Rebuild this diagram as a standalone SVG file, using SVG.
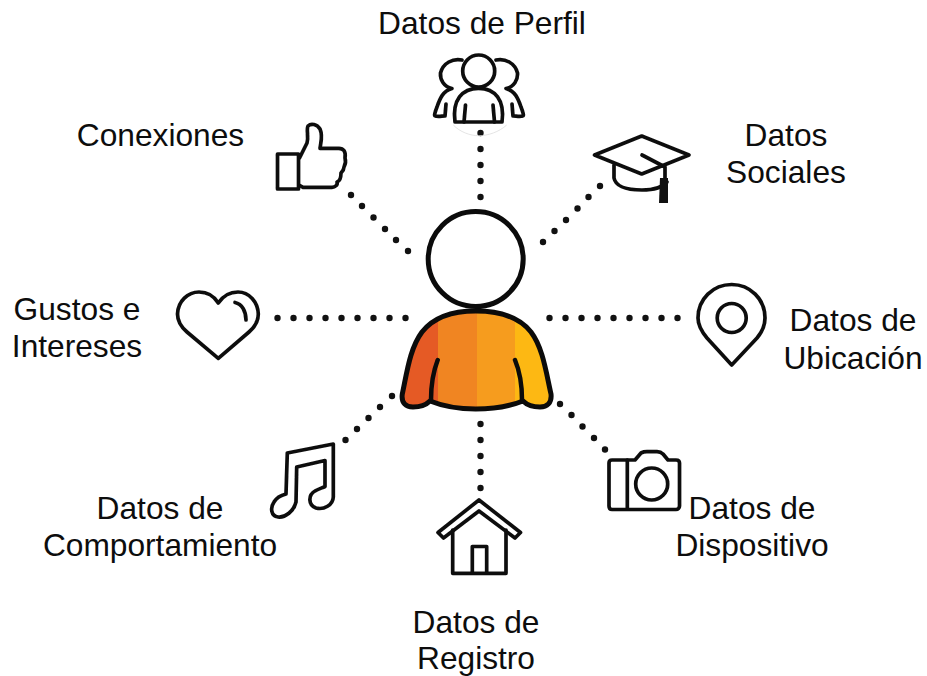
<svg xmlns="http://www.w3.org/2000/svg" width="927" height="676" viewBox="0 0 927 676">
<style>
text{font-family:"Liberation Sans",Arial,sans-serif;font-size:31.7px;fill:#0d0d0d;text-anchor:middle}
.i{fill:none;stroke:#111;stroke-width:3.7;stroke-linejoin:round;stroke-linecap:round;filter:url(#soft)}
.d{fill:#111}
</style>
<defs>
<filter id="soft" x="-10%" y="-10%" width="120%" height="120%"><feGaussianBlur stdDeviation="0.45"/></filter>
<path id="body" d="M475.7 311C452 311 433 318 422 332C410 348 407 372 402.3 394C401 403 406 407 413 407C420 407 426 405 430 401C445 407 460 409 475.7 409C492 409 508 407 523 401C527 405 533 407 540 407C547 407 552 403 551 394C546 372 543 348 531 332C520 318 500 311 475.7 311Z"/>
<clipPath id="bc"><use href="#body"/></clipPath>
<circle id="o" r="3.2"/>
</defs>
<rect width="927" height="676" fill="#fff"/>
<g id="connectors" class="d">
<use href="#o" x="480.500" y="133"/><use href="#o" x="480.500" y="149"/><use href="#o" x="480.500" y="165"/><use href="#o" x="480.500" y="181"/><use href="#o" x="480.500" y="197"/>
<use href="#o" x="600" y="186"/><use href="#o" x="588.500" y="197"/><use href="#o" x="577.500" y="208.500"/><use href="#o" x="566" y="220"/><use href="#o" x="554.500" y="231"/><use href="#o" x="543" y="242"/>
<use href="#o" x="351" y="195"/><use href="#o" x="362" y="206"/><use href="#o" x="373.500" y="217.500"/><use href="#o" x="385" y="229"/><use href="#o" x="396" y="240"/><use href="#o" x="408" y="251"/>
<use href="#o" x="277.500" y="318"/><use href="#o" x="293.500" y="318"/><use href="#o" x="309.500" y="318"/><use href="#o" x="325.500" y="318"/><use href="#o" x="341.500" y="318"/><use href="#o" x="357.500" y="318"/><use href="#o" x="373.500" y="318"/><use href="#o" x="389.500" y="318"/><use href="#o" x="405.500" y="318"/>
<use href="#o" x="549.500" y="318"/><use href="#o" x="565.500" y="318"/><use href="#o" x="581.500" y="318"/><use href="#o" x="597.500" y="318"/><use href="#o" x="613.500" y="318"/><use href="#o" x="629.500" y="318"/><use href="#o" x="645.500" y="318"/><use href="#o" x="661.500" y="318"/><use href="#o" x="677.500" y="318"/>
<use href="#o" x="560" y="404"/><use href="#o" x="571.500" y="415"/><use href="#o" x="582.500" y="426.500"/><use href="#o" x="594" y="438"/><use href="#o" x="605" y="449.500"/>
<use href="#o" x="345.500" y="440"/><use href="#o" x="357" y="429"/><use href="#o" x="368.500" y="418"/><use href="#o" x="380" y="407"/><use href="#o" x="392" y="396"/>
<use href="#o" x="480.500" y="424"/><use href="#o" x="480.500" y="440"/><use href="#o" x="480.500" y="456"/><use href="#o" x="480.500" y="472"/><use href="#o" x="480.500" y="488"/>
</g>
<g id="person">
<circle cx="475.700" cy="259" r="47.500" fill="#fff" stroke="#0b0b0b" stroke-width="5"/>
<g clip-path="url(#bc)">
<rect x="395" y="305" width="43" height="110" fill="#E55A25"/>
<rect x="438" y="305" width="39" height="110" fill="#F08522"/>
<rect x="477" y="305" width="38" height="110" fill="#F69C1E"/>
<rect x="515" y="305" width="45" height="110" fill="#FDB813"/>
</g>
<use href="#body" fill="none" stroke="#0b0b0b" stroke-width="5" stroke-linejoin="round"/>
<path d="M437.700 360C433 372 431 387 431 400M515 360C520 372 522 387 522 400" fill="none" stroke="#0b0b0b" stroke-width="4.500" stroke-linecap="round"/>
</g>
<g id="perfil">
<path d="M453.300 125C460 132 470 135.700 478.700 135.700C488 135.700 499 132 506.700 125" fill="none" stroke="#ddd" stroke-width="0.800"/>
<g class="i">
<circle cx="478.700" cy="71" r="16"/>
<path d="M455 122C452 100 462 88.300 478.700 88.300C495 88.300 505 100 502 122Z"/>
<path d="M465.500 105L464 122M493 105L494.500 122"/>
<path d="M462 60C453 58 443 63 440.500 73C440 80 444 87 452 88.500C443 91 440 98 437 107C435 112 434 116 435 116C438 117 442 116 445 116L446 104"/>
<path d="M496 60C505 58 515 63 517.500 73C518 80 514 87 506 88.500C515 91 518 98 521 107C523 112 524 116 523 116C520 117 516 116 513 116L512 104"/>
</g>
<text x="482" y="34">Datos de Perfil</text>
</g>
<g id="social">
<g class="i">
<path d="M594.500 155L641.700 136L689 155L641.700 174Z"/>
<path d="M614 165V178C616 188 630 190 642 190C652 190 662 188 667 182"/>
<path d="M642 155L665 167V180"/>
</g>
<path d="M660 178L668 178L668 203H659Z" fill="#111"/>
<text x="786" y="146">Datos</text>
<text x="786" y="183">Sociales</text>
</g>
<g id="conexiones">
<g class="i">
<rect x="277.500" y="154" width="21" height="35"/>
<path d="M299.500 158L307 143C309 136 306 130 308 126C311 123 317 124 320 129C323 136 321 141 320 148.300H338C344 148 346 152 345 158C346 161 345 165 344 167C344 170 342 172 341 173C341 178 340 181 337 182C338 185 335 187.300 332 187.300H303L299 185"/>
</g>
<text x="160.500" y="146">Conexiones</text>
</g>
<g id="gustos">
<g class="i">
<path d="M218.300 358.300L187 332C180 326 177.500 320 177.500 314C178 301 188 292 199 292C207 292 214 296 218.300 303C223 296 230 292 238 292C249 292 258 302 258.300 314C258.300 320 256 326 249 332Z"/>
<path d="M235 302.500C242 304 246 311 246 320"/>
</g>
<text x="77" y="320">Gustos e</text>
<text x="77" y="357">Intereses</text>
</g>
<g id="ubicacion">
<g class="i">
<path d="M731.700 365L707 338C702 332 698 325 698 318C698 299 713 284.500 731.700 284.500C750 284.500 765 299 765 318C765 325 762 332 757 338Z"/>
<circle cx="731.700" cy="318" r="14.500"/>
</g>
<text x="853" y="331">Datos de</text>
<text x="853" y="369">Ubicación</text>
</g>
<g id="dispositivo">
<g class="i">
<path d="M612 460H635L641 453C643 452 645 451.700 647 451.700H657C659 451.700 661 452 663 454L668 460H676C678 460 679.500 461 679.500 463V506C679.500 508 678 509.500 676 509.500H612C610 509.500 609 508 609 506V463C609 461 610 460 612 460Z"/>
<path d="M627.300 460V509"/>
<circle cx="651.700" cy="484" r="16"/>
</g>
<text x="752" y="519">Datos de</text>
<text x="752" y="556">Dispositivo</text>
</g>
<g id="registro">
<g class="i">
<path d="M479 500L520.500 532.500L515 538L479 511L443.500 538L438 532.500Z"/>
<path d="M452.700 530V573.300H506V530"/>
<path d="M472.300 573V546.500H486.700V573"/>
</g>
<text x="476" y="633">Datos de</text>
<text x="476" y="669">Registro</text>
</g>
<g id="comportamiento">
<g class="i">
<path d="M287.300 453L333.300 444V497C333 505 324 510 316 508C308 505 308 495 315 491C318 489 322 488 325 486.500V460.500L296.700 467L296 502C294 511 285 518 278 517C271 516 270 508 274 502C277 497 282 495 286 494Z"/>
</g>
<text x="160" y="519">Datos de</text>
<text x="160" y="556">Comportamiento</text>
</g>
</svg>
